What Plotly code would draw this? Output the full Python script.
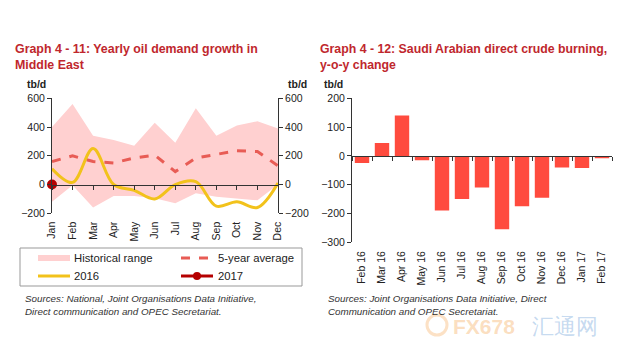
import plotly.graph_objects as go

months = ["Jan", "Feb", "Mar", "Apr", "May", "Jun", "Jul", "Aug", "Sep", "Oct", "Nov", "Dec"]
hist_upper = [400, 560, 340, 310, 270, 430, 290, 530, 340, 410, 440, 390]
hist_lower = [-120, -5, -160, -80, -80, -95, -130, -60, -85, -100, -110, 0]
avg5 = [160, 200, 160, 150, 185, 205, 90, 185, 210, 235, 230, 130]
y2016 = [110, 15, 250, 0, -40, -100, 0, 20, -150, -120, -160, 10]
y2017 = [0]

bar_cats = ["Feb 16", "Mar 16", "Apr 16", "May 16", "Jun 16", "Jul 16", "Aug 16",
            "Sep 16", "Oct 16", "Nov 16", "Dec 16", "Jan 17", "Feb 17"]
bar_vals = [-25, 45, 140, -15, -190, -150, -110, -255, -175, -145, -40, -42, -8]

W, H = 630, 363
def py(p):
    return 1 - p / H
def px(p):
    return p / W

FONT = "Liberation Sans, Arial, sans-serif"
TITLE_C = "#C0272D"
TXT = "#222222"

fig = go.Figure()

# Left chart
fig.add_trace(go.Scatter(x=months, y=hist_upper, mode="lines", line=dict(width=0),
                         showlegend=False, hoverinfo="skip", xaxis="x", yaxis="y"))
fig.add_trace(go.Scatter(x=months, y=hist_lower, mode="lines", line=dict(width=0),
                         fill="tonexty", fillcolor="#FFD0D0", name="Historical range",
                         showlegend=False, xaxis="x", yaxis="y"))
fig.add_trace(go.Scatter(x=months, y=avg5, mode="lines",
                         line=dict(color="#E85C55", width=3, dash="dash"),
                         showlegend=False, xaxis="x", yaxis="y"))
fig.add_trace(go.Scatter(x=months, y=y2016, mode="lines",
                         line=dict(color="#F2C21B", width=3, shape="spline", smoothing=1.0),
                         showlegend=False, xaxis="x", yaxis="y"))
fig.add_trace(go.Scatter(x=months[:1], y=y2017, mode="markers",
                         marker=dict(color="#B50000", size=10),
                         showlegend=False, xaxis="x", yaxis="y", cliponaxis=False))

# Right chart
fig.add_trace(go.Bar(x=bar_cats, y=bar_vals, marker=dict(color="#FF4B3E", line=dict(width=0)),
                     width=0.72, showlegend=False, xaxis="x2", yaxis="y3"))

ax_common = dict(showgrid=False, zeroline=False, linecolor="#333", linewidth=1,
                 ticks="outside", tickcolor="#333", ticklen=4,
                 tickfont=dict(family=FONT, size=10.5, color=TXT))

left_dom = [px(52), px(278)]
left_ydom = [py(213.3), py(98.3)]
right_dom = [px(352), px(612)]
right_ydom = [py(242.3), py(98.3)]

zero_left = left_ydom[0] + (left_ydom[1] - left_ydom[0]) * 200 / 800
zero_right = right_ydom[0] + (right_ydom[1] - right_ydom[0]) * 300 / 500

fig.update_layout(
    width=W, height=H, margin=dict(l=0, r=0, t=0, b=0),
    paper_bgcolor="white", plot_bgcolor="rgba(0,0,0,0)",
    font=dict(family=FONT, color=TXT),
    xaxis=dict(domain=left_dom, type="category", range=[0, 11], anchor="free",
               position=zero_left, tickangle=-90, ticklabelstandoff=28,
               **ax_common),
    yaxis=dict(domain=left_ydom, range=[-200, 600], tickvals=[-200, 0, 200, 400, 600],
               anchor="x", automargin=False, **ax_common),
    yaxis2=dict(domain=left_ydom, range=[-200, 600], tickvals=[-200, 0, 200, 400, 600],
                overlaying="y", side="right", anchor="x", automargin=False, **ax_common),
    xaxis2=dict(domain=right_dom, type="category", range=[-0.5, 12.5], anchor="free",
                position=zero_right, tickangle=-90, ticklabelstandoff=90,
                tickson="boundaries", **ax_common),
    yaxis3=dict(domain=right_ydom, range=[-300, 200], tickvals=[-300, -200, -100, 0, 100, 200],
                anchor="x2", automargin=False, **ax_common),
)
fig.update_xaxes(automargin=False)

fig.add_trace(go.Scatter(x=months[:1], y=[None], xaxis="x", yaxis="y2", showlegend=False))

anns = []
def text(x, y, s, size=10.5, color=TXT, bold=False, italic=False, xanchor="left", yanchor="middle"):
    if bold:
        s = "<b>" + s + "</b>"
    if italic:
        s = "<i>" + s + "</i>"
    anns.append(dict(x=px(x), y=py(y), xref="paper", yref="paper", text=s, showarrow=False,
                     xanchor=xanchor, yanchor=yanchor, align="left",
                     font=dict(family=FONT, size=size, color=color)))

text(13, 49, "Graph 4 - 11: Yearly oil demand growth in", size=12.4, color=TITLE_C, bold=True)
text(13, 65, "Middle East", size=12.4, color=TITLE_C, bold=True)
text(318, 49, "Graph 4 - 12: Saudi Arabian direct crude burning,", size=12.3, color=TITLE_C, bold=True)
text(318, 65, "y-o-y change", size=12.3, color=TITLE_C, bold=True)
text(25, 84, "tb/d", size=10.5, bold=True)
text(286, 84, "tb/d", size=10.5, bold=True)
text(322, 84, "tb/d", size=10.5, bold=True)

# Legend
text(72, 258, "Historical range", size=11.3)
text(216, 258, "5-year average", size=11.3)
text(72, 276, "2016", size=11.3)
text(216, 276, "2017", size=11.3)

text(23, 298, "Sources: National, Joint Organisations Data Initiative,", size=9.8, color="#333", italic=True)
text(23, 311, "Direct communication and OPEC Secretariat.", size=9.8, color="#333", italic=True)
text(326, 298, "Sources: Joint Organisations Data Initiative, Direct", size=9.8, color="#333", italic=True)
text(326, 311, "Communication and OPEC Secretariat.", size=9.8, color="#333", italic=True)

# watermark
text(451, 326, "<b>FX678</b>", size=21, color="rgba(245,170,90,0.40)")
text(530, 326, "汇通网", size=22, color="rgba(110,160,215,0.40)")

fig.update_layout(annotations=anns)

shapes = [
    dict(type="rect", xref="paper", yref="paper", x0=px(20), x1=px(302), y0=py(286), y1=py(248),
         line=dict(color="#999", width=1), fillcolor="rgba(0,0,0,0)"),
    dict(type="line", xref="paper", yref="paper", x0=px(38), x1=px(70), y0=py(258), y1=py(258),
         line=dict(color="#FFD0D0", width=6)),
    dict(type="line", xref="paper", yref="paper", x0=px(181), x1=px(213), y0=py(258), y1=py(258),
         line=dict(color="#E85C55", width=3, dash="dash")),
    dict(type="line", xref="paper", yref="paper", x0=px(38), x1=px(70), y0=py(276), y1=py(276),
         line=dict(color="#F2C21B", width=3)),
    dict(type="line", xref="paper", yref="paper", x0=px(181), x1=px(213), y0=py(276), y1=py(276),
         line=dict(color="#B50000", width=3)),
    dict(type="circle", xref="paper", yref="paper", x0=px(193), x1=px(201), y0=py(280), y1=py(272),
         line=dict(color="#B50000", width=0), fillcolor="#B50000"),
    dict(type="circle", xref="paper", yref="paper", x0=px(427), x1=px(447), y0=py(335), y1=py(315),
         line=dict(color="rgba(245,170,90,0.35)", width=3), fillcolor="rgba(0,0,0,0)"),
]
fig.update_layout(shapes=shapes)

fig.write_html("out.html", config={"displayModeBar": False},
               post_script="document.body.style.margin='0';document.body.style.padding='0';")
